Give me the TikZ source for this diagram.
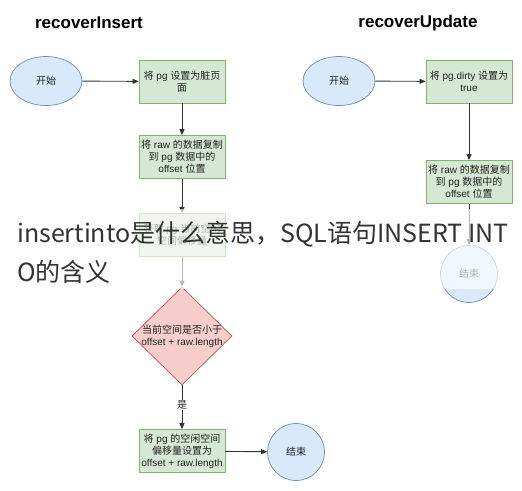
\documentclass[tikz,border=0pt]{standalone}
\usepackage{fontspec}
\setmainfont{Liberation Sans}
\newfontfamily\cjk{Noto Sans CJK SC}
\usetikzlibrary{shapes.geometric,arrows.meta}
\definecolor{bluefill}{HTML}{DAE8FC}
\definecolor{bluedraw}{HTML}{6C8EBF}
\definecolor{greenfill}{HTML}{D5E8D4}
\definecolor{greendraw}{HTML}{82B366}
\definecolor{redfill}{HTML}{F8CECC}
\definecolor{reddraw}{HTML}{B85450}
\definecolor{edgecol}{HTML}{333333}
\definecolor{txtcol}{HTML}{222222}
\begin{document}
\begin{tikzpicture}[x=1pt,y=-1pt,
  boxtext/.style={font=\fontsize{10}{12}\selectfont, text=txtcol, align=center},
  titlest/.style={font=\bfseries\fontsize{17}{20}\selectfont, text=black},
  startst/.style={ellipse, draw=bluedraw, fill=bluefill, line width=0.7pt, minimum width=72pt, minimum height=49pt, inner sep=0pt, boxtext},
  endst/.style={circle, draw=bluedraw, fill=bluefill, line width=0.7pt, minimum size=57pt, inner sep=0pt, boxtext},
  procst/.style={rectangle, draw=greendraw, fill=greenfill, line width=0.7pt, minimum width=86pt, minimum height=43pt, inner sep=1pt, boxtext},
  diast/.style={diamond, draw=reddraw, fill=redfill, line width=0.7pt, minimum width=100pt, minimum height=98pt, inner sep=0pt},
  flow/.style={draw=edgecol, line width=0.9pt, -{Triangle[length=6pt,width=5pt]}},
  overlayst/.style={font=\cjk\fontsize{25}{30}\selectfont, text=black!80, anchor=west, inner sep=0pt}
]
\useasboundingbox (0,0) rectangle (522,490);
\fill[white] (0,0) rectangle (522,490);

% titles
\node[titlest] (t1) at (89,23) {recoverInsert};
\node[titlest] (t2) at (418,23) {recoverUpdate};

% left column
\node[startst] (s1) at (46,81) {{\cjk 开始}};
\node[procst] (a1) at (182,81.5) {{\cjk 将} pg {\cjk 设置为脏页}\\{\cjk 面}};
\node[procst] (a2) at (182,157) {{\cjk 将} raw {\cjk 的数据复制}\\{\cjk 到} pg {\cjk 数据中的}\\offset {\cjk 位置}};
\node[procst] (a3) at (182,235) {{\cjk 获取} pg {\cjk 当前空闲}\\{\cjk 空间偏移量}};
\node[diast] (d1) at (182,336) {};
\node[boxtext] (d1t) at (d1.center) {{\cjk 当前空间是否小于}\\offset + raw.length};
\node[procst] (a4) at (182,451) {{\cjk 将} pg {\cjk 的空闲空间}\\{\cjk 偏移量设置为}\\offset + raw.length};
\node[endst] (e1) at (296,452) {{\cjk 结束}};

\draw[flow] (s1) -- (a1);
\draw[flow] (a1) -- (a2);
\draw[flow] (a2) -- (a3);
\draw[flow] (a3) -- (d1);
\draw[flow] (d1) -- node[boxtext, fill=white, inner sep=1pt, pos=0.45] (yes) {{\cjk 是}} (a4);
\draw[flow] (a4) -- (e1);

% right column
\node[startst] (s2) at (339,81) {{\cjk 开始}};
\node[procst] (b1) at (469,81.5) {{\cjk 将} pg.dirty {\cjk 设置为}\\true};
\node[procst] (b2) at (469,182) {{\cjk 将} raw {\cjk 的数据复制}\\{\cjk 到} pg {\cjk 数据中的}\\offset {\cjk 位置}};
\node[endst] (e2) at (469,274) {{\cjk 结束}};

\draw[flow] (s2) -- (b1);
\draw[flow] (b1) -- (b2);
\draw[flow] (b2) -- (e2);

% overlay band and caption
\fill[white, opacity=0.65] (0,209) rectangle (522,289);
\node[overlayst] (cap1) at (17,234) {insertinto是什么意思，SQL语句INSERT INT};
\node[overlayst] (cap2) at (17,272) {O的含义};
\end{tikzpicture}
\end{document}
